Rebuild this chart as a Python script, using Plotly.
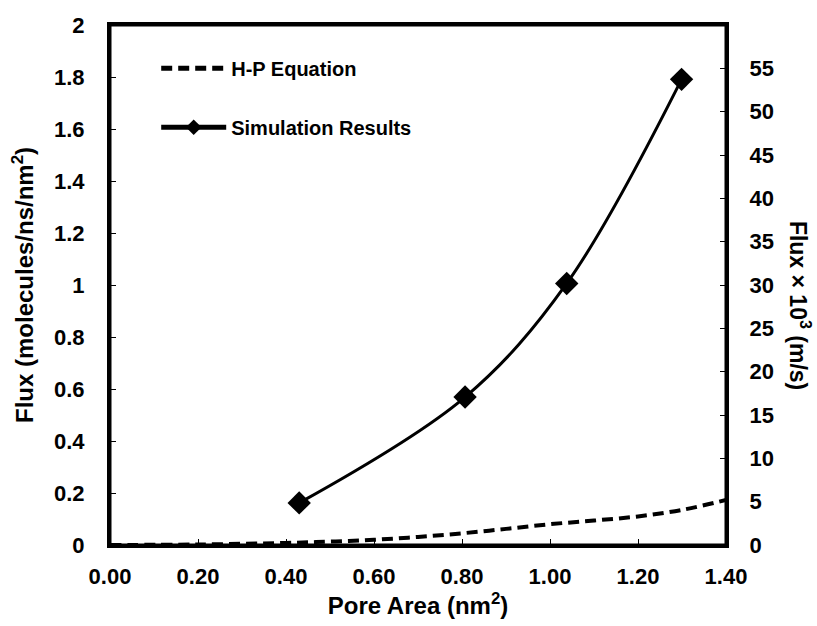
import plotly.graph_objects as go

# Data
hp_area = [0.00, 0.20, 0.40, 0.50, 0.60, 0.70, 0.80, 0.90, 1.00, 1.10, 1.20, 1.30, 1.40]
hp_flux = [0.000, 0.002, 0.008, 0.013, 0.020, 0.031, 0.045, 0.062, 0.080, 0.094, 0.110, 0.135, 0.173]

sim_area = [0.43, 0.807, 1.038, 1.299]
sim_flux = [0.162, 0.569, 1.006, 1.791]

x_ticks = [0.0, 0.2, 0.4, 0.6, 0.8, 1.0, 1.2, 1.4]
y_ticks = [0, 0.2, 0.4, 0.6, 0.8, 1.0, 1.2, 1.4, 1.6, 1.8, 2.0]
y2_ticks = [0, 5, 10, 15, 20, 25, 30, 35, 40, 45, 50, 55]

FONT = "Liberation Sans, Arial, sans-serif"
tickfont = dict(family=FONT, size=22, color="black", weight="bold")
titlefont = dict(family=FONT, size=24, color="black", weight="bold")

fig = go.Figure()
fig.add_trace(go.Scatter(
    x=hp_area, y=hp_flux, mode="lines", name="H-P Equation",
    line=dict(color="black", width=4, dash="11px,6px", shape="spline"),
    legendgroup="a",
))
fig.add_trace(go.Scatter(
    x=sim_area, y=sim_flux, mode="lines+markers", name="Simulation Results",
    line=dict(color="black", width=3, shape="spline", smoothing=1.0),
    marker=dict(symbol="diamond", size=18, color="black"),
    legendgroup="b",
))
# invisible trace to activate the right axis
fig.add_trace(go.Scatter(x=[None], y=[None], yaxis="y2", showlegend=False))

fig.update_layout(
    width=817, height=626,
    margin=dict(l=110, r=91, t=25, b=81, autoexpand=False),
    plot_bgcolor="white", paper_bgcolor="white",
    font=dict(family=FONT, color="black"),
    showlegend=True,
    legend=dict(
        x=0.075, y=0.86, xanchor="left", yanchor="middle",
        font=dict(family=FONT, size=20, color="black", weight="bold"),
        bgcolor="rgba(0,0,0,0)", traceorder="grouped", tracegroupgap=30,
        itemwidth=65, itemsizing="constant",
    ),
    xaxis=dict(
        range=[0, 1.4], tickvals=x_ticks, tickformat=".2f", automargin=False,
        ticks="inside", ticklen=6, tickwidth=1, tickcolor="black",
        showline=True, linewidth=3, linecolor="black", mirror=True,
        showgrid=False, zeroline=False, tickfont=tickfont,
        ticklabelstandoff=10,
        title=dict(text="Pore Area (nm<sup>2</sup>)", font=titlefont, standoff=8),
    ),
    yaxis=dict(
        range=[0, 2], tickvals=y_ticks, automargin=False,
        ticks="inside", ticklen=6, tickwidth=1, tickcolor="black",
        showline=True, linewidth=3, linecolor="black",
        showgrid=False, zeroline=False, tickfont=tickfont,
        ticklabelstandoff=18,
        title=dict(text="Flux (molecules/ns/nm<sup>2</sup>)", font=titlefont, standoff=14),
    ),
    yaxis2=dict(
        range=[0, 60], tickvals=y2_ticks, overlaying="y", side="right", automargin=False,
        ticks="inside", ticklen=6, tickwidth=1, tickcolor="black",
        showline=True, linewidth=3, linecolor="black",
        showgrid=False, zeroline=False, tickfont=tickfont,
        ticklabelstandoff=16,
    ),
    shapes=[dict(type="rect", xref="paper", yref="paper", x0=0, y0=0, x1=1, y1=1,
                 line=dict(color="black", width=3), fillcolor="rgba(0,0,0,0)", layer="above")],
    annotations=[dict(
        text="Flux × 10<sup>3</sup> (m/s)", xref="paper", yref="paper",
        x=1.12, y=0.46, xanchor="center", yanchor="middle",
        textangle=90, showarrow=False,
        font=dict(family=FONT, size=23, color="black", weight="bold"),
    )],
)

fig.write_html("out.html")
